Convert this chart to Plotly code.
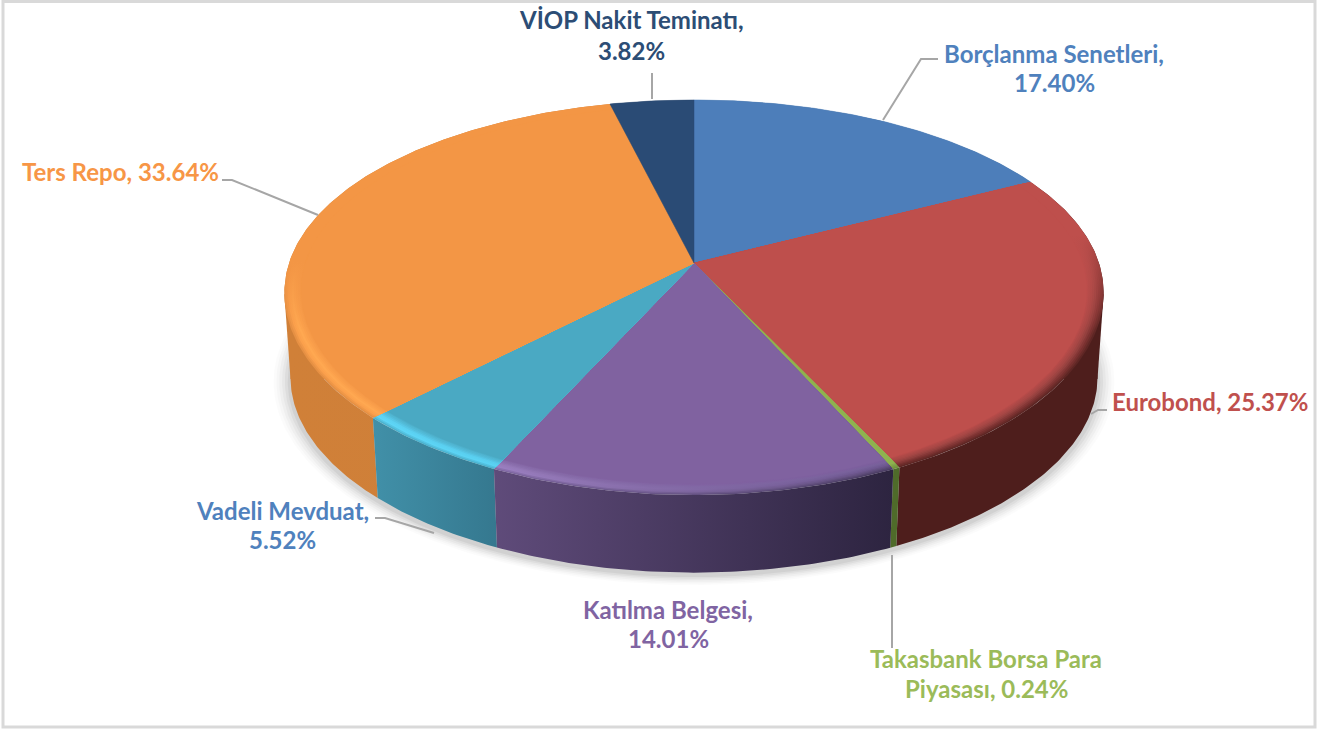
import numpy as np
import plotly.graph_objects as go

categories = ["Borçlanma Senetleri", "Eurobond", "Takasbank Borsa Para Piyasası", "Katılma Belgesi",
              "Vadeli Mevduat", "Ters Repo", "VİOP Nakit Teminatı"]
values = [17.40, 25.37, 0.24, 14.01, 5.52, 33.64, 3.82]
top_colors = ["#4D7EBA", "#BE4F4C", "#8FB24F", "#8062A0", "#4AA9C3", "#F39645", "#2A4B75"]
label_colors = ["#4F81BD", "#C0504D", "#9BBB59", "#8064A2", "#4F81BD", "#F79646", "#2C4D75"]
side_from = ["#3E658F", "#4E1E1C", "#4F6B2A", "#5F4B7A", "#4190A8", "#D08038", "#223B5B"]
side_to = ["#3E658F", "#4E1E1C", "#4F6B2A", "#2D2440", "#35788F", "#CE7F3A", "#223B5B"]

# projection of the pie disc onto the canvas (pixel-based axes)
CX, CY, BX, AY, KX, KY = 694.0, 263.0, 405.0, 189.8, 0.15, 0.164
BULGE = 5.0
DEPTH, SHRINK = 86.0, 0.985
W, H = 1331, 731


def base_point(t, r=1.0):
    u, v = r * np.sin(t), -r * np.cos(t)
    return CX + BX * u / (1 - KX * v), CY + AY * v / (1 - KY * v), v


def top_point(t, r=1.0):
    x, y, v = base_point(t, r)
    return x, y + BULGE * np.maximum(v, 0)


def bottom_point(t):
    x, y, _ = base_point(t)
    return CX + SHRINK * (x - CX), CY + SHRINK * (y - CY) + DEPTH


fig = go.Figure()


def poly(x, y, color=None, grad=None, line=0):
    kw = dict(x=list(x), y=list(y), mode="lines", fill="toself", hoverinfo="skip", showlegend=False,
              line=dict(width=line, color=color if color else "rgba(0,0,0,0)"))
    if grad:
        kw["fillgradient"] = grad
    else:
        kw["fillcolor"] = color
    fig.add_trace(go.Scatter(**kw))


def lerp_hex(c1, c2, f):
    a = [int(c1[k:k + 2], 16) for k in (1, 3, 5)]
    b = [int(c2[k:k + 2], 16) for k in (1, 3, 5)]
    return "#%02X%02X%02X" % tuple(round(p + (q - p) * f) for p, q in zip(a, b))


def densify(cols):
    out = []
    for p, q in zip(cols[:-1], cols[1:]):
        out += [p, lerp_hex(p, q, 0.5)]
    return out + [cols[-1]]


# soft shadow under the disc
full = np.linspace(0, 2 * np.pi, 361)
for grow, alpha in [(1.042, .016), (1.035, .02), (1.028, .026), (1.021, .032), (1.014, .04), (1.007, .05)]:
    bx, by = bottom_point(full)
    ex = CX + (bx - CX) * grow
    ey = CY + DEPTH + (by - CY - DEPTH) * grow + 3
    poly(ex, ey, f"rgba(0,0,0,{alpha})")

edges = np.concatenate([[0], np.cumsum(values)]) / sum(values) * 2 * np.pi
arcs = [np.linspace(edges[i], edges[i + 1], max(4, int((edges[i + 1] - edges[i]) * 90))) for i in range(len(values))]


def slice_at(t):
    return int(np.searchsorted(edges, t, side="right") - 1)


# silhouette fillers between the disc's widest points on top and bottom faces
tfx, tfy = top_point(full)
bfx, bfy = bottom_point(full)
for k, inward in [(int(np.argmax(tfx)), -60), (int(np.argmin(tfx)), 60)]:
    i = slice_at(full[k])
    poly([tfx[k], bfx[k], bfx[k] + inward, tfx[k] + inward, tfx[k]],
         [tfy[k], bfy[k], bfy[k], tfy[k], tfy[k]], side_from[i])

# walls, back to front
order = sorted(range(len(values)), key=lambda i: np.cos((edges[i] + edges[i + 1]) / 2), reverse=True)
for i in order:
    tx, ty = top_point(arcs[i])
    bx, by = bottom_point(arcs[i])
    px = np.concatenate([tx, bx[::-1], tx[:1]])
    py = np.concatenate([ty, by[::-1], ty[:1]])
    poly(px, py, grad=dict(type="horizontal", start=float(px.min()), stop=float(px.max()),
                           colorscale=[[0, side_from[i]], [1, side_to[i]]]))

# bevel rings: outer to inner colours, with the gradient direction and extent of the lit zone
rings = list(np.linspace(1.0, 0.964, 9))
INNER = 0.96
bevels = {
    1: dict(type="vertical", start=235, stop=335, a=["#BE4F4C"] * 5,
            b=["#5E2624", "#7A3130", "#93403E", "#A84745", "#B54B49"]),
    2: dict(type="vertical", start=400, stop=470, a=["#8FB24F"] * 5,
            b=["#6F8F3C", "#7E9F45", "#8FB24F", "#8FB24F", "#8FB24F"]),
    3: dict(type="horizontal", start=497, stop=890,
            a=["#7D66A0", "#9B7FC1", "#977BBB", "#8C70AF", "#8567A6"],
            b=["#4A3C62", "#5E4B7A", "#6E5790", "#77609A", "#7C5E9D"]),
    4: dict(type="horizontal", start=375, stop=500,
            a=["#4DB4D0", "#5ED6F7", "#5CD2F3", "#54BFDD", "#4EB1CC"],
            b=["#4AB0CC", "#5AD2F3", "#58CDEE", "#52BBD9", "#4DAFCA"]),
    5: dict(type="vertical", start=262, stop=330, a=["#F39645"] * 5,
            b=["#E69043", "#FBA04C", "#FFA851", "#FBA04B", "#F69A48"]),
}

for i in range(len(values)):
    if i in bevels:
        b = bevels[i]
        ca, cb = densify(b["a"]), densify(b["b"])
        for j, r in enumerate(rings):
            ax, ay = top_point(arcs[i], r)
            poly(np.concatenate([[CX], ax, [CX]]), np.concatenate([[CY], ay, [CY]]),
                 grad=dict(type=b["type"], start=b["start"], stop=b["stop"],
                           colorscale=[[0, ca[j]], [1, cb[j]]]))
        ax, ay = top_point(arcs[i], INNER)
    else:
        ax, ay = top_point(arcs[i])
    poly(np.concatenate([[CX], ax, [CX]]), np.concatenate([[CY], ay, [CY]]), top_colors[i], line=0.5)

# leader lines
leaders = [
    ([938, 921, 883], [59, 59, 120]),
    ([652, 652], [73, 99]),
    ([222, 232, 318], [180, 180, 215]),
    ([1107, 1098, 1091], [410, 410, 414]),
    ([375, 385, 434], [518, 518, 533]),
    ([892, 892], [555, 648]),
]
for lx, ly in leaders:
    fig.add_trace(go.Scatter(x=lx, y=ly, mode="lines", hoverinfo="skip", showlegend=False,
                             line=dict(color="#A6A6A6", width=2)))

# labels built from the data: (series index, line template, centre x, centre y)
label_lines = [
    (0, "{name},", 1054, 53.5), (0, "{val}", 1054, 82.5),
    (1, "{name}, {val}", 1210, 401),
    (2, "Takasbank Borsa Para", 986, 658.5), (2, "Piyasası, {val}", 986, 688.5),
    (3, "{name},", 668, 609.5), (3, "{val}", 668, 638.5),
    (4, "{name},", 282, 510.5), (4, "{val}", 282, 539.5),
    (5, "{name}, {val}", 120, 171),
    (6, "{name},", 631, 19.5), (6, "{val}", 631, 50.5),
]
for i, tmpl, lx, ly in label_lines:
    txt = tmpl.format(name=categories[i], val=f"{values[i]:.2f}%")
    fig.add_annotation(x=lx, y=ly, xref="x", yref="y", text=f"<b>{txt}</b>", showarrow=False,
                       xanchor="center", yanchor="middle",
                       font=dict(family="Lato, Open Sans, sans-serif", size=24, color=label_colors[i]))

fig.update_layout(
    width=W, height=H, autosize=False, margin=dict(l=0, r=0, t=0, b=0),
    paper_bgcolor="white", plot_bgcolor="white", showlegend=False,
    xaxis=dict(range=[0, W], visible=False, fixedrange=True),
    yaxis=dict(range=[H, 0], visible=False, fixedrange=True),
    shapes=[dict(type="rect", xref="x", yref="y", x0=3, y0=1.5, x1=1315, y1=727,
                 line=dict(color="#D9D9D9", width=3), fillcolor="rgba(0,0,0,0)", layer="below")],
)
fig.write_html("out.html", post_script="document.body.style.margin='0';document.body.style.overflow='hidden';",
               config={"displayModeBar": False})
